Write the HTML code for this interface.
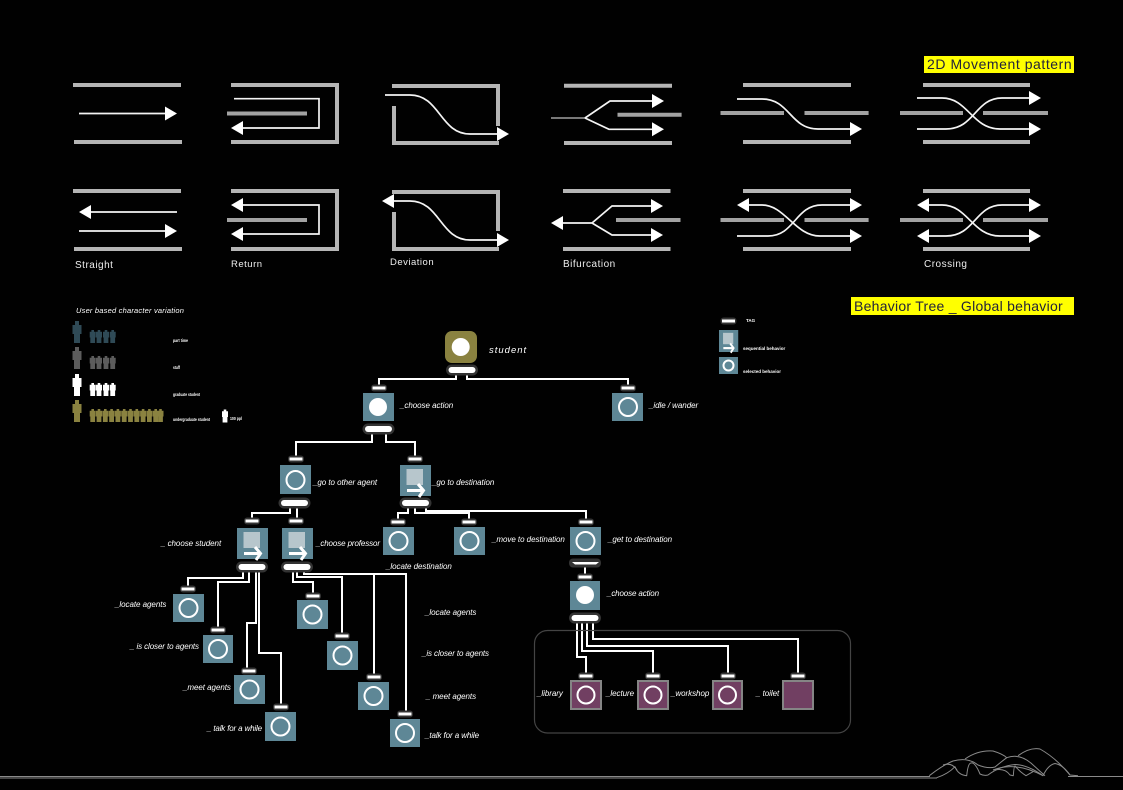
<!DOCTYPE html>
<html><head><meta charset="utf-8">
<style>
html,body{margin:0;padding:0;background:#010101;width:1123px;height:790px;overflow:hidden}
svg{display:block}
text{font-family:"Liberation Sans",sans-serif;fill:#fff}
.t{font-size:8px;font-style:italic;letter-spacing:-.05px}
.h{font-size:14px;fill:#23233a;letter-spacing:.35px}
.l{font-size:10px;letter-spacing:.5px;fill:#eee}
.s{font-size:4.5px;font-weight:bold}
.g{stroke:#b5b5b5;stroke-width:4;fill:none}
.g2{stroke:#a2a2a2;stroke-width:4;fill:none}
.w{stroke:#f4f4f4;stroke-width:1.7;fill:none}
.c{stroke:#fff;stroke-width:2;fill:none}
.k{fill:#5e8796}
.r{stroke:#fff;stroke-width:2;fill:none}
.f{fill:#fff}
.p{fill:#713f62;stroke:#858585;stroke-width:2}
</style></head>
<body>
<svg width="1123" height="790" viewBox="0 0 1123 790" xmlns="http://www.w3.org/2000/svg">
<defs>
<polygon id="ar" points="-12,-7 0,0 -12,7" fill="#fff"/>
<polygon id="al" points="12,-7 0,0 12,7" fill="#fff"/>
<g id="pill"><rect x="-16" y="-5.500" width="32" height="11" rx="5.500" fill="#333"/><rect x="-13.500" y="-3" width="27" height="6" rx="3" fill="#fff"/></g>
<g id="cap"><rect x="-8" y="-3.500" width="16" height="7" rx="3" fill="#333"/><rect x="-6.500" y="-1.500" width="13" height="3" fill="#fff"/></g>
<g id="seq"><rect x="0" y="0" width="31" height="31" class="k"/><rect x="6.500" y="4" width="16.500" height="16" fill="#b7c6cc"/><path d="M7 25.500H23" stroke="#fff" stroke-width="3" fill="none"/><path d="M18 19L23.500 25.500L19 32" stroke="#fff" stroke-width="3" fill="none"/></g>
<path id="fig" d="M-1.300 -6.500H1.300V-4.800H3V1H2.400V6.500H-2.400V1H-3V-4.800H-1.300Z"/>
<path id="big" d="M-2 -11H2V-7H4.500V2H3V11H-3V2H-4.500V-7H-2Z"/>
</defs>

<!-- headers -->
<rect x="924" y="56" width="150" height="17" fill="#ffff00"/>
<text x="927" y="69" class="h" textLength="145">2D Movement pattern</text>
<rect x="851" y="297" width="223" height="18" fill="#ffff00"/>
<text x="854" y="311" class="h" textLength="209">Behavior Tree _ Global behavior</text>

<!-- Straight -->
<path class="g" d="M73 85H181M74 142H182"/>
<path class="w" d="M79 113.500H168"/><use href="#ar" x="177" y="113.500"/>
<path class="g" d="M73 191H181M74 249H182"/>
<path class="w" d="M90 212H177"/><use href="#al" x="79" y="212"/>
<path class="w" d="M79 231H168"/><use href="#ar" x="177" y="231"/>
<text x="75" y="268" class="l">Straight</text>

<!-- Return -->
<path class="g" d="M231 85H337V142H231"/>
<path class="g2" d="M227 113.500H307"/>
<path class="w" d="M234 98.700H319V128H240"/><use href="#al" x="231" y="128"/>
<path class="g" d="M231 191H337V249H231"/>
<path class="g2" d="M227 220H307"/>
<path class="w" d="M240 205H319V234H240"/><use href="#al" x="231" y="205"/><use href="#al" x="231" y="234"/>
<text x="231" y="267" class="l" style="font-size:9.500px">Return</text>

<!-- Deviation -->
<path class="g" d="M392 86H498V126M394 106V143H499"/>
<path class="w" d="M385 95H410C440 95 440 134 470 134H500"/><use href="#ar" x="509" y="134"/>
<path class="g" d="M392 192H498V231M394 212V249H499"/>
<path class="w" d="M390 201H410C440 201 440 240 470 240H500"/><use href="#al" x="382" y="201"/><use href="#ar" x="509" y="240"/>
<text x="390" y="265" class="l" style="font-size:9.500px">Deviation</text>

<!-- Bifurcation -->
<path class="g" d="M564 85.700H672M564 143H672" style="stroke-width:4"/>
<path class="g2" d="M617.500 114.700H681.600"/>
<path d="M551 118H585" stroke="#eee" stroke-width="1" fill="none"/>
<path class="w" d="M585 118L610 101H655M585 118L609 129.300H655"/>
<use href="#ar" x="664" y="101"/><use href="#ar" x="664" y="129.300"/>
<path class="g" d="M563 191H670.500M563 249H670.500"/>
<path class="g2" d="M616 220H680.500"/>
<path class="w" d="M560 223H592L612 206H654M592 223L612 235H654"/>
<use href="#al" x="551" y="223"/><use href="#ar" x="663" y="206"/><use href="#ar" x="663" y="235"/>
<text x="563" y="267" class="l">Bifurcation</text>

<!-- Column 5 -->
<path class="g" d="M743 85H851M743 142H851"/>
<path class="g2" d="M720.500 113H784M804.500 113H868.600"/>
<path class="w" d="M737 99H762C790 99 790 129 818 129H853"/><use href="#ar" x="862" y="129"/>
<path class="g" d="M743 191H851M743 249H851"/>
<path class="g2" d="M720.500 220H784M804.500 220H868.600"/>
<path class="w" d="M745 205H762C785 205 795 236 820 236H853"/><use href="#al" x="737" y="205"/><use href="#ar" x="862" y="236"/>
<path class="w" d="M737 236H768C795 236 795 205 822 205H853"/><use href="#ar" x="862" y="205"/>

<!-- Crossing -->
<path class="g" d="M923 85H1030M923 142H1030"/>
<path class="g2" d="M900 113H963M983 113H1048"/>
<path class="w" d="M917 98H942C968 98 972 129 1000 129H1032"/><use href="#ar" x="1041" y="129"/>
<path class="w" d="M917 129H946C975 129 975 98 1002 98H1032"/><use href="#ar" x="1041" y="98"/>
<path class="g" d="M923 191H1030M923 249H1030"/>
<path class="g2" d="M900 220H963M983 220H1048"/>
<path class="w" d="M926 205H942C968 205 972 236 1000 236H1032"/><use href="#al" x="917" y="205"/><use href="#ar" x="1041" y="236"/>
<path class="w" d="M926 236H946C975 236 975 205 1002 205H1032"/><use href="#al" x="917" y="236"/><use href="#ar" x="1041" y="205"/>
<text x="924" y="267" class="l">Crossing</text>

<!-- People -->
<text x="76" y="313" style="font-size:7.500px;font-style:italic;letter-spacing:.2px">User based character variation</text>
<g fill="#2f4a56"><use href="#big" x="77" y="332"/><use href="#fig" x="92.700" y="336.500"/><use href="#fig" x="99" y="336.500"/><use href="#fig" x="106" y="336.500"/><use href="#fig" x="112.700" y="336.500"/></g>
<g fill="#5c5c5c"><use href="#big" x="77" y="358"/><use href="#fig" x="92.700" y="362.500"/><use href="#fig" x="99" y="362.500"/><use href="#fig" x="106" y="362.500"/><use href="#fig" x="112.700" y="362.500"/></g>
<g fill="#fff"><use href="#big" x="77" y="385"/><use href="#fig" x="92.700" y="389.500"/><use href="#fig" x="99" y="389.500"/><use href="#fig" x="106" y="389.500"/><use href="#fig" x="112.700" y="389.500"/></g>
<g fill="#8a8240"><use href="#big" x="77" y="411"/>
<use href="#fig" x="92.700" y="415.500"/><use href="#fig" x="99" y="415.500"/><use href="#fig" x="105.300" y="415.500"/><use href="#fig" x="111.600" y="415.500"/><use href="#fig" x="117.900" y="415.500"/><use href="#fig" x="124.200" y="415.500"/><use href="#fig" x="130.500" y="415.500"/><use href="#fig" x="136.800" y="415.500"/><use href="#fig" x="143.100" y="415.500"/><use href="#fig" x="149.400" y="415.500"/><use href="#fig" x="155.700" y="415.500"/><use href="#fig" x="160.500" y="415.500"/></g>
<use href="#fig" x="225" y="416" fill="#fff"/>
<text x="173" y="342" class="s" textLength="15" lengthAdjust="spacingAndGlyphs">part time</text>
<text x="173" y="369" class="s" textLength="7" lengthAdjust="spacingAndGlyphs">staff</text>
<text x="173" y="396" class="s" textLength="27" lengthAdjust="spacingAndGlyphs">graduate student</text>
<text x="173" y="421" class="s" textLength="37" lengthAdjust="spacingAndGlyphs">undergraduate student</text>
<text x="230" y="420" class="s" textLength="12" lengthAdjust="spacingAndGlyphs">100 ppl</text>

<!-- Legend -->
<use href="#cap" x="728.500" y="321"/>
<text x="746" y="322" class="s">TAG</text>
<g transform="translate(719 330) scale(.62 .71)"><use href="#seq"/></g>
<rect x="719" y="357" width="19" height="17" class="k"/><circle cx="728.500" cy="365.500" r="5" class="r"/>
<text x="743" y="350" class="s">sequential behavior</text>
<text x="743" y="373" class="s">selected behavior</text>

<!-- Connectors -->
<g class="c">
<path d="M456 371V379H379V388M467 371V379H628V388"/>
<path d="M372 430V442H296V459M386 430V442H415V459"/>
<path d="M290 503V513H252V521M297 503V521"/>
<path d="M408 503V513H398V522M415 503V513H469V522M426 503V511H586V522"/>
<path d="M243 567V578H188V589M249 567V582H218V630M256 567V623H247V671M259 567V653H281V707"/>
<path d="M293 567V582H313V596M297 567V577H342V636M304 567V574H406V714M374 574V677"/>
<path d="M585 563V577"/>
<path d="M577 618V657H586V676M582 618V651H653V676M587 618V646H728V676M593 618V639H798V676"/>
</g>

<!-- Group -->
<rect x="534.500" y="630.500" width="316" height="102.500" rx="13" fill="none" stroke="#444" stroke-width="1.200"/>

<!-- Root -->
<rect x="445" y="331" width="32" height="32" rx="7" fill="#8a8240"/>
<circle cx="460.700" cy="347" r="9" class="f"/>
<use href="#pill" x="462" y="370"/>
<text x="489" y="353" style="font-size:9.500px;font-style:italic;letter-spacing:1px">student</text>

<!-- Caps -->
<use href="#cap" x="379" y="388"/><use href="#cap" x="628" y="388"/>
<use href="#cap" x="296" y="459"/><use href="#cap" x="415" y="459"/>
<use href="#cap" x="252" y="521"/><use href="#cap" x="296" y="521"/>
<use href="#cap" x="398" y="522"/><use href="#cap" x="469" y="522"/><use href="#cap" x="586" y="522"/>
<use href="#cap" x="188" y="589"/><use href="#cap" x="218" y="630"/><use href="#cap" x="249" y="671"/><use href="#cap" x="281" y="707"/>
<use href="#cap" x="313" y="596"/><use href="#cap" x="342" y="636"/><use href="#cap" x="374" y="677"/><use href="#cap" x="405" y="714"/>
<use href="#cap" x="585" y="577"/>
<use href="#cap" x="586" y="676"/><use href="#cap" x="653" y="676"/><use href="#cap" x="728" y="676"/><use href="#cap" x="798" y="676"/>

<!-- Pills -->
<use href="#pill" x="378.500" y="429"/>
<use href="#pill" x="294.500" y="503"/>
<use href="#pill" x="415.500" y="503"/>
<use href="#pill" x="252" y="567"/>
<use href="#pill" x="297" y="567"/>
<use href="#pill" x="585" y="618"/>
<rect x="569" y="558.500" width="32" height="9" rx="4" fill="#333"/>
<path d="M572 562H599L596 564.500H575Z" fill="#fff"/>

<!-- Squares -->
<rect x="363" y="393" width="31" height="28" class="k"/><circle cx="378" cy="407" r="9" class="f"/>
<rect x="612" y="393" width="31" height="28" class="k"/><circle cx="628" cy="407" r="9" class="r"/>
<rect x="280" y="465" width="31" height="29" class="k"/><circle cx="295.500" cy="480" r="9" class="r"/>
<use href="#seq" x="400" y="465"/>
<use href="#seq" x="237" y="528"/>
<use href="#seq" x="282" y="528"/>
<rect x="383" y="527" width="31" height="28" class="k"/><circle cx="398.500" cy="541" r="9" class="r"/>
<rect x="454" y="527" width="31" height="28" class="k"/><circle cx="469.500" cy="541" r="9" class="r"/>
<rect x="570" y="527" width="31" height="28" class="k"/><circle cx="585.500" cy="541" r="9" class="r"/>
<rect x="570" y="581" width="30" height="29" class="k"/><circle cx="585" cy="595" r="9" class="f"/>

<rect x="173" y="594" width="31" height="28" class="k"/><circle cx="188.500" cy="608" r="9" class="r"/>
<rect x="203" y="635" width="30" height="28" class="k"/><circle cx="218" cy="649" r="9" class="r"/>
<rect x="234" y="675" width="31" height="29" class="k"/><circle cx="249.500" cy="689.500" r="9" class="r"/>
<rect x="265" y="712" width="31" height="29" class="k"/><circle cx="280.500" cy="726.500" r="9" class="r"/>

<rect x="297" y="600" width="31" height="29" class="k"/><circle cx="312.500" cy="614.500" r="9" class="r"/>
<rect x="327" y="641" width="31" height="29" class="k"/><circle cx="342.500" cy="655.500" r="9" class="r"/>
<rect x="358" y="682" width="31" height="28" class="k"/><circle cx="373.500" cy="696" r="9" class="r"/>
<rect x="390" y="719" width="30" height="28" class="k"/><circle cx="405" cy="733" r="9" class="r"/>

<rect x="571" y="681" width="30" height="28" class="p"/><circle cx="586" cy="695" r="8.500" class="r"/>
<rect x="638" y="681" width="30" height="28" class="p"/><circle cx="653" cy="695" r="8.500" class="r"/>
<rect x="713" y="681" width="29" height="28" class="p"/><circle cx="727.500" cy="695" r="8.500" class="r"/>
<rect x="783" y="681" width="30" height="28" class="p"/>

<!-- Labels -->
<text x="400" y="408" class="t">_choose action</text>
<text x="649" y="408" class="t">_idle / wander</text>
<text x="313" y="485" class="t">_go to other agent</text>
<text x="432" y="485" class="t">_go to destination</text>
<text x="161" y="546" class="t">_ choose student</text>
<text x="316" y="546" class="t" textLength="64">_choose professor</text>
<text x="386" y="569" class="t">_locate destination</text>
<text x="492" y="542" class="t">_move to destination</text>
<text x="608" y="542" class="t" textLength="64">_get to destination</text>
<text x="607" y="596" class="t" textLength="52">_choose action</text>
<text x="115" y="607" class="t">_locate agents</text>
<text x="130" y="649" class="t" textLength="69">_ is closer to agents</text>
<text x="183" y="690" class="t">_meet agents</text>
<text x="207" y="731" class="t" textLength="55">_ talk for a while</text>
<text x="425" y="615" class="t">_locate agents</text>
<text x="422" y="656" class="t" textLength="67">_is closer to agents</text>
<text x="426" y="699" class="t">_ meet agents</text>
<text x="425" y="738" class="t" textLength="54">_talk for a while</text>
<text x="537" y="696" class="t">_library</text>
<text x="606" y="696" class="t">_lecture</text>
<text x="671" y="696" class="t">_workshop</text>
<text x="756" y="696" class="t">_ toilet</text>

<!-- Bottom landscape -->
<g fill="none" stroke="#8a8a8a" stroke-width="1" stroke-linejoin="round">
<path d="M0 776.500H930M0 778H937"/>
<path d="M1068 776.500H1123"/>
<path d="M929.300 775.700Q943 765 953 761Q968 757 978 765Q988 769 995 767Q1001 762 1006.700 757.700"/>
<path d="M965 759Q978 750 993 751Q1003 754 1006.700 757.700Q1020 753 1032 764L1045 775.700"/>
<path d="M1018 755.700Q1030 747 1040 749Q1056 758 1070 775L1078 775.700"/>
<path d="M936.700 777.700Q948 774 955 766.700Q958 775 966.700 775.700Q968 763 971 763Q975 762 980 774Q984 776 988 775Q1000 766 1015 764.500Q1028 765 1043 775.700Q1048 765 1055 763.500Q1063 765 1070 775"/>
<path d="M943 765Q952 762 957 770"/>
<path d="M995 770Q1005 768 1010 775L1013.300 775.700Q1014 766 1015 766Q1020 772 1026 775.700L1033 771.700"/>
<path d="M993 770Q1015 761 1043 775.700"/>
</g>
</svg>
</body></html>
